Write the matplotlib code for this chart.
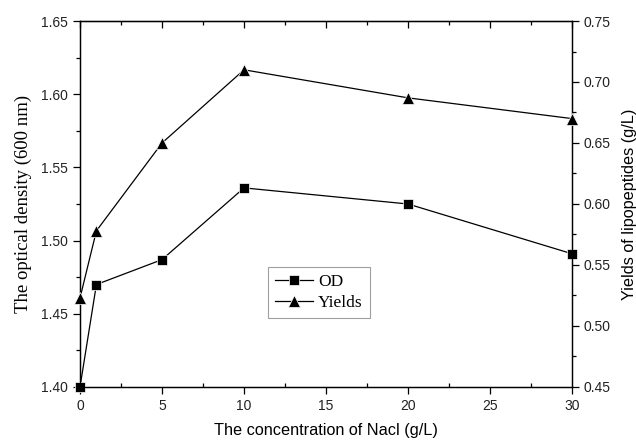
import numpy as np
import matplotlib
matplotlib.use("Agg")
import matplotlib.pyplot as plt
from matplotlib.ticker import MultipleLocator

nacl = [0, 1, 5, 10, 20, 30]
od = [1.400, 1.470, 1.487, 1.536, 1.525, 1.491]
yields = [0.523, 0.578, 0.650, 0.710, 0.687, 0.670]

sans = "Liberation Sans"
serif = "Liberation Serif"

fig = plt.figure(figsize=(6.36, 4.44), dpi=100)
ax1 = fig.add_axes([0.1258, 0.1284, 0.7736, 0.8243])
ax2 = ax1.twinx()

l1, = ax1.plot(nacl, od, color="black", lw=0.9, marker="s", ms=6.5,
               mec="white", mew=0.5, clip_on=False, zorder=3)
l2, = ax2.plot(nacl, yields, color="black", lw=0.9, marker="^", ms=8.5,
               mec="white", mew=0.5, clip_on=False, zorder=3)

ax1.set_xlim(0, 30)
ax1.set_ylim(1.40, 1.65)
ax2.set_ylim(0.45, 0.75)

ax1.xaxis.set_major_locator(MultipleLocator(5))
ax1.xaxis.set_minor_locator(MultipleLocator(2.5))
ax1.yaxis.set_major_locator(MultipleLocator(0.05))
ax1.yaxis.set_minor_locator(MultipleLocator(0.025))
ax2.yaxis.set_major_locator(MultipleLocator(0.05))
ax2.yaxis.set_minor_locator(MultipleLocator(0.025))
ax1.yaxis.set_major_formatter(matplotlib.ticker.FormatStrFormatter("%.2f"))
ax2.yaxis.set_major_formatter(matplotlib.ticker.FormatStrFormatter("%.2f"))

ax1.tick_params(axis="x", which="major", direction="out", length=5, width=0.9, top=False)
ax1.tick_params(axis="x", which="minor", direction="in", length=3, width=0.9, top=False)
ax1.tick_params(axis="y", which="major", direction="out", length=5, width=0.9)
ax1.tick_params(axis="y", which="minor", direction="out", length=3, width=0.9)
ax2.tick_params(axis="y", which="major", direction="out", length=5, width=0.9)
ax2.tick_params(axis="y", which="minor", direction="out", length=3, width=0.9)

# top ticks drawn inward
top = ax1.secondary_xaxis("top")
top.xaxis.set_major_locator(MultipleLocator(5))
top.xaxis.set_minor_locator(MultipleLocator(2.5))
top.tick_params(which="major", direction="in", length=5, width=0.9, labeltop=False)
top.tick_params(which="minor", direction="in", length=3, width=0.9)

for ax in (ax1, ax2):
    for s in ax.spines.values():
        s.set_linewidth(0.9)
    for lab in ax.get_xticklabels() + ax.get_yticklabels():
        lab.set_fontfamily(sans)
        lab.set_fontsize(10)
        lab.set_color("#222222")

ax1.set_xlabel("The concentration of Nacl (g/L)", fontfamily=sans, fontsize=11.7, labelpad=7)
ax1.set_ylabel("The optical density (600 nm)", fontfamily=serif, fontsize=13.5, labelpad=7)
ax2.set_ylabel("Yields of lipopeptides (g/L)", fontfamily=sans, fontsize=11.7, labelpad=8)

leg = ax1.legend([l1, l2], ["OD", "Yields"], loc="upper left",
                 bbox_to_anchor=(0.364, 0.352), frameon=True, fancybox=False,
                 prop={"family": serif, "size": 12.5}, handlelength=2.2,
                 handletextpad=0.3, borderpad=0.4, labelspacing=0.3)
leg.get_frame().set_edgecolor("#888888")
leg.get_frame().set_linewidth(0.8)

fig.savefig("out.png", dpi=100)
